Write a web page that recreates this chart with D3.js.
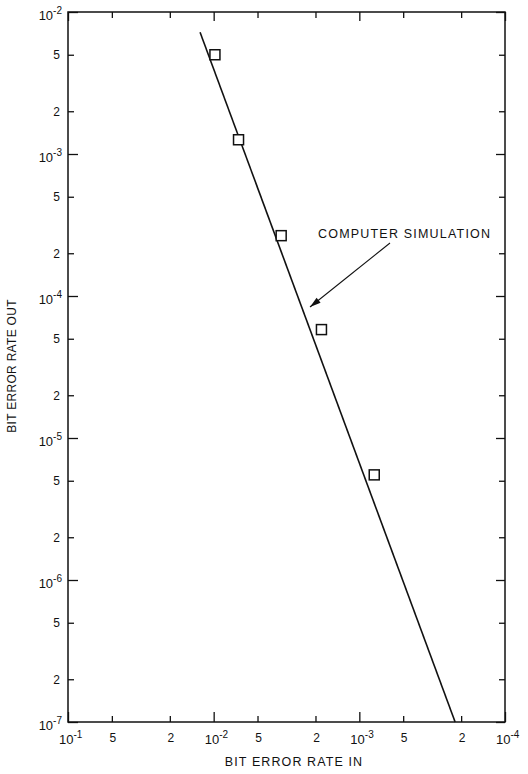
<!DOCTYPE html>
<html><head><meta charset="utf-8">
<script src="https://cdn.jsdelivr.net/npm/d3@7"></script>
<style>
body{margin:0;background:#fff}
svg{display:block}
text{font-family:"Liberation Sans",Arial,Helvetica,sans-serif;fill:#111}
</style>
</head><body><svg id="c" width="528" height="774"></svg>
<script>
// ---- data ----
const berIn  = [9.8e-3, 6.75e-3, 3.44e-3, 1.82e-3, 7.9e-4];
const berOut = [5.0e-3, 1.26e-3, 2.66e-4, 5.8e-5, 5.5e-6];
const fitIn  = [1.24e-2, 2.2e-4];
const fitOut = [7.2e-3, 1.0e-7];
const xDecades = [1e-1, 1e-2, 1e-3, 1e-4];
const yDecades = [1e-2, 1e-3, 1e-4, 1e-5, 1e-6, 1e-7];
const minorMult = [2, 5];
const xTitle = "BIT ERROR RATE IN";
const yTitle = "BIT ERROR RATE OUT";
const annotation = "COMPUTER SIMULATION";

// ---- layout ----
const L = 68, R = 505, T = 12, B = 722;
const svg = d3.select("#c");
const x = d3.scaleLog().domain([1e-1, 1e-4]).range([L, R]);
const y = d3.scaleLog().domain([1e-7, 1e-2]).range([B, T]);

function minors(decs){
  const hi = Math.max(...decs);
  const out = [];
  decs.forEach(d => { if (d < hi) minorMult.forEach(m => out.push(d*m)); });
  return out;
}
const xMinor = minors(xDecades);
const yMinor = minors(yDecades);
const expo = d => Math.round(Math.log10(d));
const mant = v => Math.round(v / Math.pow(10, Math.floor(Math.log10(v) + 1e-9)));

// ---- ticks on all four sides (inward) ----
function addAxis(gen, tf, vals, size){
  const g = svg.append("g").attr("transform", tf)
    .call(gen.tickValues(vals).tickSize(-size).tickFormat(""));
  g.select(".domain").remove();
  g.selectAll(".tick line").attr("stroke", "#111").attr("stroke-width", 1.3);
}
addAxis(d3.axisBottom(x), `translate(0,${B})`, xDecades, 10);
addAxis(d3.axisBottom(x), `translate(0,${B})`, xMinor, 6);
addAxis(d3.axisTop(x), `translate(0,${T})`, xDecades, 9);
addAxis(d3.axisTop(x), `translate(0,${T})`, xMinor, 6);
addAxis(d3.axisLeft(y), `translate(${L},0)`, yDecades, 10);
addAxis(d3.axisLeft(y), `translate(${L},0)`, yMinor, 6);
addAxis(d3.axisRight(y), `translate(${R},0)`, yDecades, 9);
addAxis(d3.axisRight(y), `translate(${R},0)`, yMinor, 6);

// frame
svg.append("rect").attr("x", L).attr("y", T).attr("width", R-L).attr("height", B-T)
  .attr("fill", "none").attr("stroke", "#111").attr("stroke-width", 1.5);

// ---- tick labels ----
yDecades.forEach(d => {
  const t = svg.append("text").attr("x", L-6).attr("y", y(d)+8)
    .attr("text-anchor", "end").attr("font-size", 13);
  t.append("tspan").text("10");
  t.append("tspan").attr("dy", -6).attr("font-size", 10).text("-" + Math.abs(expo(d)));
});
yMinor.forEach(v => {
  svg.append("text").attr("x", L-8).attr("y", y(v)+4.5)
    .attr("text-anchor", "end").attr("font-size", 12).text(String(mant(v)));
});
xDecades.forEach(d => {
  const t = svg.append("text").attr("x", x(d)-9).attr("y", B+22)
    .attr("text-anchor", "start").attr("font-size", 13);
  t.append("tspan").text("10");
  t.append("tspan").attr("dy", -6).attr("font-size", 10).text("-" + Math.abs(expo(d)));
});
xMinor.forEach(v => {
  svg.append("text").attr("x", x(v)+1).attr("y", B+20)
    .attr("text-anchor", "middle").attr("font-size", 12).text(String(mant(v)));
});

// ---- axis titles ----
svg.append("text").attr("x", 294).attr("y", 766).attr("text-anchor", "middle")
  .attr("font-size", 12.5).attr("letter-spacing", 1.1).text(xTitle);
svg.append("text").attr("transform", `translate(16,366) rotate(-90)`)
  .attr("text-anchor", "middle").attr("font-size", 12).attr("letter-spacing", 0.3).text(yTitle);

// ---- fit line ----
const fit = fitIn.map((v, i) => [v, fitOut[i]]);
svg.append("path").datum(fit)
  .attr("d", d3.line().x(d => x(d[0])).y(d => y(d[1])))
  .attr("fill", "none").attr("stroke", "#111").attr("stroke-width", 1.6);

// ---- points ----
const pts = berIn.map((v, i) => [v, berOut[i]]);
svg.selectAll("rect.pt").data(pts).join("rect").attr("class", "pt")
  .attr("x", d => x(d[0]) - 5).attr("y", d => y(d[1]) - 5)
  .attr("width", 10).attr("height", 10)
  .attr("fill", "#fff").attr("stroke", "#111").attr("stroke-width", 1.5);

// ---- annotation ----
svg.append("text").attr("x", 318).attr("y", 238).attr("font-size", 12.5)
  .attr("letter-spacing", 1.2).text(annotation);
const ax0 = 390, ay0 = 243, ax1 = 310, ay1 = 307;
svg.append("line").attr("x1", ax0).attr("y1", ay0).attr("x2", ax1).attr("y2", ay1)
  .attr("stroke", "#111").attr("stroke-width", 1.1);
const ang = Math.atan2(ay1 - ay0, ax1 - ax0), hl = 11, hw = 3.2;
const bx = ax1 - hl*Math.cos(ang), by = ay1 - hl*Math.sin(ang);
svg.append("path").attr("d",
  `M${ax1},${ay1}L${bx + hw*Math.sin(ang)},${by - hw*Math.cos(ang)}L${bx - hw*Math.sin(ang)},${by + hw*Math.cos(ang)}Z`)
  .attr("fill", "#111");
</script>
</body></html>
